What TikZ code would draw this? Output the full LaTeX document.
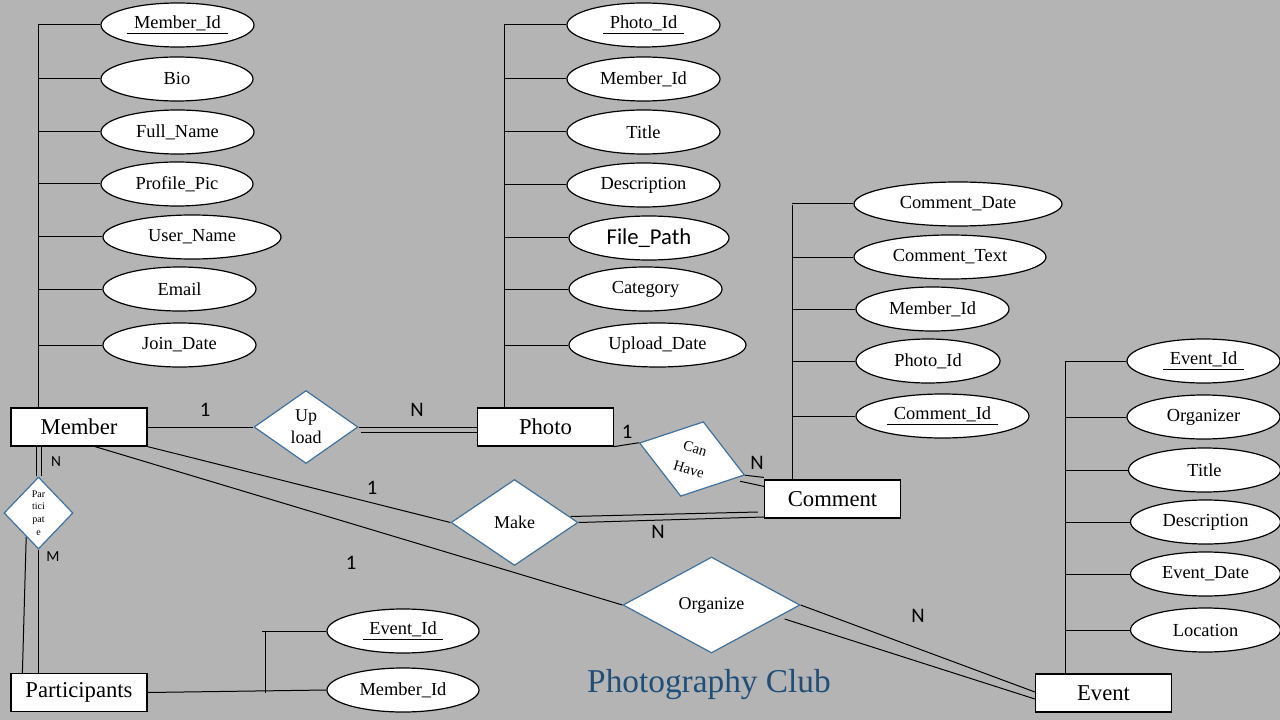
\documentclass[tikz,border=0pt]{standalone}
\usepackage{fontspec}
\setmainfont{Liberation Serif}
\newfontfamily\carl{Carlito}
\usetikzlibrary{shapes.geometric,calc}
\definecolor{bg}{RGB}{180,180,180}
\definecolor{dia}{RGB}{65,113,156}
\definecolor{ttl}{RGB}{31,78,121}
\def\PX{0.75pt}
\newcommand\keyu[1]{\underline{\hspace{5pt}#1\hspace{5pt}}}
\pgfdeclarelayer{back}
\pgfdeclarelayer{lines}
\pgfsetlayers{back,lines,main}
\begin{document}
\begin{tikzpicture}[x=0.75pt,y=-0.75pt,
  ent/.style={draw, fill=white, line width=0.9pt, minimum width=136*\PX, minimum height=38*\PX, inner sep=0, font=\fontsize{17}{20}\selectfont},
  attr/.style={ellipse, draw, fill=white, line width=0.9pt, minimum height=44*\PX, inner sep=0, font=\fontsize{13.8}{16}\selectfont},
  rel/.style={diamond, draw=dia, fill=white, line width=0.9pt, inner sep=0, align=center, font=\fontsize{13.5}{16.5}\selectfont},
  card/.style={inner sep=0, font=\carl\fontsize{15.5}{18}\selectfont},
  cards/.style={inner sep=0, font=\carl\fontsize{11.5}{14}\selectfont},
  conn/.style={line width=0.75pt},
  dbl/.style={line width=0.75pt, double=bg, double distance=3pt}
]
\begin{pgfonlayer}{back}
\fill[bg] (0,0) rectangle (1280,720);
\end{pgfonlayer}
\useasboundingbox (0,0) rectangle (1280,720);

% entities
\node[ent] (member) at (79,427) {Member};
\node[ent] (photo) at (545.5,427) {Photo};
\node[ent] (comment) at (832.5,499) {Comment};
\node[ent] (part) at (79,692.5) {Participants};
\node[ent] (event) at (1103.5,693) {Event};

% relationships
\node[rel, minimum width=104*\PX, minimum height=73*\PX] (upload) at (306,427) {Up\\load};
\node[rel, minimum width=127*\PX, minimum height=86*\PX] (make) at (514.5,522.5) {Make};
\node[rel, minimum width=177*\PX, minimum height=96*\PX] (organize) at (711.5,605) {Organize};
\node[rel, minimum width=110*\PX, minimum height=78*\PX, rotate=-17, font=\fontsize{11}{16}\selectfont] (canhave) at (692,459) {Can\\Have};
\node[rel, minimum width=69*\PX, minimum height=72*\PX, font=\fontsize{7.5}{9.5}\selectfont] (partic) at (38.5,513) {Par\\tici\\pat\\e};

% Member attributes
\node[attr, minimum width=153*\PX] (m1) at (177.5,25) {\keyu{Member\_Id}};
\node[attr, minimum width=152*\PX] (m2) at (177,79) {Bio};
\node[attr, minimum width=153*\PX] (m3) at (177.5,132) {Full\_Name};
\node[attr, minimum width=152*\PX] (m4) at (177,184) {Profile\_Pic};
\node[attr, minimum width=178*\PX] (m5) at (192,237) {User\_Name};
\node[attr, minimum width=153*\PX] (m6) at (179.5,289) {Email};
\node[attr, minimum width=153*\PX] (m7) at (179.5,345) {Join\_Date};

% Photo attributes
\node[attr, minimum width=153*\PX] (p1) at (643.5,25) {\keyu{Photo\_Id}};
\node[attr, minimum width=153*\PX] (p2) at (643.5,79) {Member\_Id};
\node[attr, minimum width=153*\PX] (p3) at (643.5,132) {Title};
\node[attr, minimum width=153*\PX] (p4) at (643.5,185) {Description};
\node[attr, minimum width=160*\PX, font=\carl\fontsize{17}{20}\selectfont] (p5) at (649,238) {File\_Path};
\node[attr, minimum width=153*\PX] (p6) at (645.5,289) {Category};
\node[attr, minimum width=177*\PX] (p7) at (657.5,345) {Upload\_Date};

% Comment attributes
\node[attr, minimum width=208*\PX] (c1) at (958,204) {Comment\_Date};
\node[attr, minimum width=192*\PX] (c2) at (950,257) {Comment\_Text};
\node[attr, minimum width=153*\PX] (c3) at (932.5,309) {Member\_Id};
\node[attr, minimum width=144*\PX] (c4) at (928,361) {Photo\_Id};
\node[attr, minimum width=173*\PX] (c5) at (942.5,416) {\keyu{Comment\_Id}};

% Event attributes
\node[attr, minimum width=153*\PX] (e1) at (1203.5,361) {\keyu{Event\_Id}};
\node[attr, minimum width=153*\PX] (e2) at (1203.5,417) {Organizer};
\node[attr, minimum width=152*\PX] (e3) at (1204.5,470) {Title};
\node[attr, minimum width=150*\PX] (e4) at (1205.5,522) {Description};
\node[attr, minimum width=150*\PX] (e5) at (1205.5,574) {Event\_Date};
\node[attr, minimum width=150*\PX] (e6) at (1205.5,630) {Location};

% Participants attributes
\node[attr, minimum width=152*\PX] (pe) at (403,631) {\keyu{Event\_Id}};
\node[attr, minimum width=152*\PX] (pm) at (403,690) {Member\_Id};

% trunk coordinates
\coordinate (mt) at (38,25);
\coordinate (pt) at (504,25);
\coordinate (ct) at (792,205);
\coordinate (et) at (1065,361);
\coordinate (pb) at (262,631);
\coordinate (pv) at (265,631);

% cardinalities
\node[card] (k1) at (205,410) {1};
\node[card] (k2) at (417,410) {N};
\node[card] (k3) at (627,432) {1};
\node[card] (k4) at (757,463) {N};
\node[card] (k5) at (372,488) {1};
\node[card] (k6) at (658,532) {N};
\node[card] (k7) at (351,563) {1};
\node[card] (k8) at (918,616) {N};
\node[cards] (k9) at (56,462) {N};
\node[cards] (k10) at (53,557) {M};

% title
\node[font=\fontsize{25}{30}\selectfont, text=ttl, inner sep=0] (title) at (709,685) {Photography Club};

\begin{pgfonlayer}{lines}
% attribute trunks
\draw[conn] (mt) -- (mt |- member.north);
\foreach \n in {m1,m2,m3,m4,m5,m6,m7} \draw[conn] (\n.west) -- (\n.west -| mt);
\draw[conn] (pt) -- (pt |- photo.north);
\foreach \n in {p1,p2,p3,p4,p5,p6,p7} \draw[conn] (\n.west) -- (\n.west -| pt);
\draw[conn] (ct) -- (ct |- comment.north);
\foreach \n in {c1,c2,c3,c4,c5} \draw[conn] (\n.west) -- (\n.west -| ct);
\draw[conn] (et) -- (et |- event.north);
\foreach \n in {e1,e2,e3,e4,e5,e6} \draw[conn] (\n.west) -- (\n.west -| et);
\draw[conn] (pe.west) -- (pb);
\draw[conn] (pv) -- (pv |- part.east);
\draw[conn] (part.east) -- (pm.west);

% relationships
\draw[conn] (member.east) -- (upload.west);
\draw[conn] (upload.east) -- (photo.west);
\draw[conn] ($(upload.east)+(2,5)$) -- ($(photo.west)+(0,5)$);
\draw[conn] (photo.south east) -- (canhave.west);
\draw[conn] (canhave.east) -- ($(comment.north west)+(0,-2)$);
\draw[conn] ($(canhave.east)+(-5,6)$) -- ($(comment.north west)+(0,7)$);
\draw[conn] (member.south east) -- (make.west);
\draw[conn] ($(make.east)+(-8,-6)$) -- ($(comment.west)+(-6,13)$);
\draw[conn] (make.east) -- ($(comment.west)+(0,18)$);
\draw[conn] ($(member.south)+(16,0)$) -- (organize.west);
\draw[conn] (organize.east) -- ($(event.west)+(0,-1)$);
\draw[conn] ($(organize.east)+(-16,14)$) -- ($(event.west)+(0,6)$);
\draw[dbl] (partic.north) -- (partic.north |- member.south);
\draw[conn] (partic.south) -- (partic.south |- part.north);
\draw[conn] ($(partic.south)!0.35!(partic.west)$) -- ($(part.north west)+(12,0)$);
\end{pgfonlayer}
\end{tikzpicture}
\end{document}
